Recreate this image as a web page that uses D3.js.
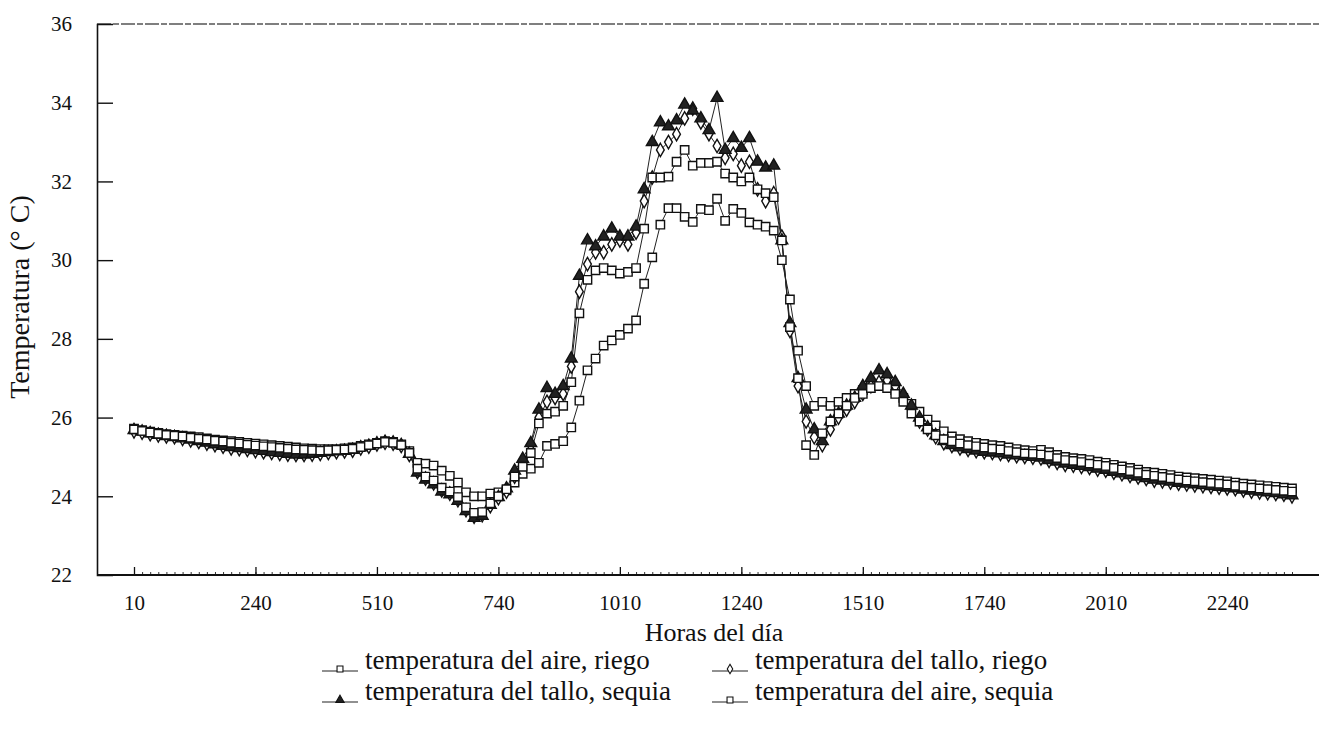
<!DOCTYPE html>
<html>
<head>
<meta charset="utf-8">
<script src="https://cdn.jsdelivr.net/npm/d3@7"></script>
<style>
  body { margin: 0; background: #fff; }
  svg text { font-family: "Liberation Serif", "Times New Roman", Times, "DejaVu Serif", serif; fill: #111; }
</style>
</head>
<body>
<div id="chart"></div>
<script>
// time of day, one reading every 10 minutes (0:10 ... 24:00)
var horas = d3.range(10, 1441, 10).map(function(m) { return String(Math.floor(m / 60) * 100 + m % 60); });
var tickLabels = ["10", "240", "510", "740", "1010", "1240", "1510", "1740", "2010", "2240"];
var yTicks = [22, 24, 26, 28, 30, 32, 34, 36];

// temperatura del aire, riego
var aireRiego = [
  25.72, 25.68, 25.64, 25.61, 25.58, 25.56, 25.54, 25.52, 25.50, 25.47,
  25.44, 25.42, 25.40, 25.38, 25.36, 25.34, 25.32, 25.30, 25.28, 25.26,
  25.24, 25.22, 25.21, 25.20, 25.20, 25.20, 25.22, 25.24, 25.28, 25.32,
  25.36, 25.40, 25.38, 25.32, 25.15,
  24.85, 24.83, 24.78, 24.65, 24.52, 24.35, 24.10, 24.00, 24.00, 24.07, 24.10, 24.15, 24.35, 24.57, 24.70, 24.85,
  25.28, 25.33, 25.40, 25.75, 26.43, 27.20, 27.50, 27.83, 27.96, 28.10, 28.26, 28.47, 29.40, 30.07, 30.90, 31.32, 31.32,
  31.10, 30.97, 31.30, 31.27, 31.56, 31.00, 31.30, 31.20, 30.96, 30.90, 30.85, 30.75, 30.00, 29.00,
  27.70, 26.80, 26.30, 26.40, 26.30, 26.40, 26.50, 26.60, 26.70, 26.80, 26.85, 26.80, 26.70, 26.50, 26.35, 26.15, 25.95, 25.80, 25.65,
  25.52, 25.45, 25.40, 25.36, 25.33, 25.30, 25.28, 25.24, 25.20, 25.17, 25.15, 25.18, 25.12, 25.05, 25.00, 24.97, 24.95, 24.92, 24.88, 24.85,
  24.80, 24.76, 24.72, 24.68, 24.62, 24.60, 24.57, 24.54, 24.50, 24.48, 24.46, 24.44, 24.42, 24.40, 24.38, 24.35, 24.32, 24.30, 24.28, 24.26,
  24.24, 24.22, 24.20
];

// temperatura del tallo, riego
var talloRiego = [
  25.65, 25.62, 25.58, 25.55, 25.52, 25.50, 25.46, 25.42, 25.38, 25.34,
  25.30, 25.26, 25.22, 25.20, 25.18, 25.15, 25.12, 25.10, 25.08, 25.06,
  25.05, 25.05, 25.06, 25.08, 25.10, 25.12, 25.14, 25.16, 25.22, 25.26,
  25.32, 25.36, 25.34, 25.28, 25.05,
  24.62, 24.45, 24.33, 24.15, 24.07, 23.90, 23.65, 23.48, 23.52, 23.75, 23.95, 24.12, 24.50, 24.85, 25.30, 26.00,
  26.40, 26.50, 26.60, 27.30, 29.20, 29.90, 30.20, 30.20, 30.40, 30.50, 30.40, 30.70, 31.50, 32.10, 32.80, 33.00, 33.20,
  33.60, 33.85, 33.50, 33.20, 32.90, 32.60, 32.70, 32.40, 32.50, 31.80, 31.50, 31.70, 30.60, 28.20,
  26.80, 25.90, 25.50, 25.30, 25.70, 26.00, 26.20, 26.40, 26.60, 26.80, 26.90, 26.95, 26.80, 26.50, 26.20, 25.90, 25.70, 25.50, 25.35,
  25.28, 25.22, 25.18, 25.15, 25.12, 25.10, 25.08, 25.05, 25.02, 25.00, 24.98, 24.96, 24.90, 24.85, 24.80, 24.78, 24.75, 24.72, 24.68, 24.65,
  24.60, 24.56, 24.52, 24.48, 24.44, 24.40, 24.38, 24.35, 24.32, 24.30, 24.28, 24.26, 24.24, 24.22, 24.20, 24.18, 24.15, 24.12, 24.10, 24.08,
  24.06, 24.04, 24.00
];

// temperatura del tallo, sequia
var talloSequia = [
  25.68, 25.64, 25.60, 25.56, 25.53, 25.50, 25.47, 25.44, 25.40, 25.36,
  25.32, 25.28, 25.25, 25.22, 25.20, 25.17, 25.15, 25.12, 25.10, 25.08,
  25.06, 25.06, 25.08, 25.10, 25.12, 25.14, 25.15, 25.18, 25.24, 25.28,
  25.34, 25.38, 25.36, 25.30, 25.08,
  24.60, 24.42, 24.30, 24.12, 24.05, 23.88, 23.62, 23.45, 23.50, 23.78, 23.98, 24.20, 24.65, 24.95, 25.35, 26.20,
  26.75, 26.60, 26.80, 27.50, 29.60, 30.50, 30.35, 30.60, 30.80, 30.60, 30.60, 30.85, 31.80, 33.00, 33.50, 33.40, 33.55,
  33.95, 33.80, 33.60, 33.30, 34.12, 32.80, 33.10, 32.85, 33.10, 32.50, 32.35, 32.40, 30.50, 28.40,
  27.00, 26.20, 25.70, 25.40, 25.90, 26.10, 26.30, 26.50, 26.80, 27.00, 27.20, 27.10, 26.90, 26.60, 26.30, 26.00, 25.75, 25.55, 25.40,
  25.30, 25.24, 25.20, 25.16, 25.13, 25.11, 25.09, 25.06, 25.04, 25.02, 25.00, 24.98, 24.92, 24.88, 24.83, 24.80, 24.77, 24.74, 24.70, 24.67,
  24.62, 24.58, 24.54, 24.50, 24.46, 24.42, 24.40, 24.37, 24.34, 24.32, 24.30, 24.28, 24.26, 24.24, 24.22, 24.20, 24.17, 24.14, 24.12, 24.10,
  24.08, 24.05, 24.02
];

// temperatura del aire, sequia
var aireSequia = [
  25.70, 25.66, 25.62, 25.59, 25.56, 25.54, 25.52, 25.49, 25.46, 25.44,
  25.41, 25.39, 25.36, 25.34, 25.31, 25.29, 25.27, 25.25, 25.23, 25.21,
  25.19, 25.18, 25.17, 25.16, 25.17, 25.18, 25.19, 25.21, 25.25, 25.30,
  25.34, 25.38, 25.36, 25.30, 25.10,
  24.70, 24.50, 24.40, 24.22, 24.12, 23.98, 23.72, 23.58, 23.60, 23.82, 24.00, 24.18, 24.50, 24.75, 25.10, 25.85,
  26.10, 26.15, 26.30, 26.90, 28.65, 29.50, 29.74, 29.80, 29.74, 29.66, 29.70, 29.80, 30.80, 32.10, 32.10, 32.12, 32.50,
  32.80, 32.40, 32.47, 32.47, 32.50, 32.20, 32.10, 32.00, 32.10, 31.80, 31.70, 31.60, 30.50, 28.30,
  27.00, 25.30, 25.05, 25.60, 25.90, 26.10, 26.30, 26.50, 26.60, 26.75, 26.80, 26.75, 26.60, 26.40, 26.10, 25.90, 25.70, 25.55, 25.45,
  25.40, 25.34, 25.30, 25.27, 25.24, 25.21, 25.19, 25.15, 25.12, 25.09, 25.08, 25.06, 25.03, 24.97, 24.92, 24.90, 24.87, 24.83, 24.80, 24.77,
  24.72, 24.68, 24.64, 24.60, 24.55, 24.52, 24.49, 24.46, 24.43, 24.40, 24.38, 24.36, 24.34, 24.32, 24.30, 24.27, 24.24, 24.22, 24.20, 24.18,
  24.16, 24.14, 24.12
];

var series = [
  { name: "temperatura del aire, riego", values: aireRiego, symbol: d3.symbolSquare, size: 70, fill: "#fff" },
  { name: "temperatura del tallo, riego", values: talloRiego, symbol: d3.symbolDiamond, size: 52, fill: "#fff" },
  { name: "temperatura del tallo, sequia", values: talloSequia, symbol: d3.symbolTriangle, size: 60, fill: "#222" },
  { name: "temperatura del aire, sequia", values: aireSequia, symbol: d3.symbolSquare, size: 70, fill: "#fff" }
];

series.forEach(function(s) {
  if (s.values.length !== horas.length) throw new Error(s.name + " has " + s.values.length + " values");
});

// dimensions
var svgWidth = 1319;
var svgHeight = 736;
var plot = { left: 97, right: 1319, top: 24, bottom: 575 };
var serif = '"Liberation Serif", "Times New Roman", Times, serif';

var svg = d3.select("#chart").append("svg")
  .attr("width", svgWidth)
  .attr("height", svgHeight);

// scales
var xScale = d3.scalePoint()
  .domain(horas)
  .range([134, 1292]);

var yScale = d3.scaleLinear()
  .domain([22, 36])
  .range([plot.bottom, plot.top]);

// frame: faint top border
svg.append("line")
  .attr("x1", plot.left).attr("x2", plot.right)
  .attr("y1", plot.top).attr("y2", plot.top)
  .attr("stroke", "#555")
  .attr("stroke-width", 1.4)
  .attr("stroke-dasharray", "14 2 6 2");

// y axis, ticks pointing into the plot
var leftAxis = d3.axisLeft(yScale)
  .tickValues(yTicks)
  .tickSize(-16)
  .tickPadding(25)
  .tickFormat(d3.format("d"));

var yAxisG = svg.append("g")
  .attr("transform", `translate(${plot.left}, 0)`)
  .call(leftAxis);
yAxisG.attr("font-family", null);
yAxisG.select(".domain").attr("stroke", "#111").attr("stroke-width", 1.6);
yAxisG.selectAll(".tick line").attr("stroke", "#111").attr("stroke-width", 1.4)
  .attr("display", d => (d === 22 || d === 36) ? "none" : null);
yAxisG.selectAll(".tick text")
  .style("font-family", serif)
  .style("font-size", "21px")
  .attr("fill", "#111");

// x axis: minor ticks every reading, major ticks at labels
var minorAxis = d3.axisBottom(xScale)
  .tickSize(-3)
  .tickFormat("");
var minorG = svg.append("g")
  .attr("transform", `translate(0, ${plot.bottom})`)
  .call(minorAxis);
minorG.select(".domain").remove();
minorG.selectAll(".tick line").attr("stroke", "#333").attr("stroke-width", 1);

var bottomAxis = d3.axisBottom(xScale)
  .tickValues(tickLabels)
  .tickSize(-8)
  .tickPadding(20);
var xAxisG = svg.append("g")
  .attr("transform", `translate(0, ${plot.bottom})`)
  .call(bottomAxis);
xAxisG.attr("font-family", null);
xAxisG.select(".domain").remove();
xAxisG.selectAll(".tick line").attr("stroke", "#111").attr("stroke-width", 1.3);
xAxisG.selectAll(".tick text")
  .style("font-family", serif)
  .style("font-size", "21px")
  .attr("fill", "#111");

svg.append("line")
  .attr("x1", plot.left).attr("x2", plot.right)
  .attr("y1", plot.bottom).attr("y2", plot.bottom)
  .attr("stroke", "#111")
  .attr("stroke-width", 1.8);

// lines
var line = d3.line()
  .x((d, i) => xScale(horas[i]))
  .y(d => yScale(d));

series.forEach(function(s) {
  svg.append("path")
    .datum(s.values)
    .attr("d", line)
    .attr("fill", "none")
    .attr("stroke", "#222")
    .attr("stroke-width", 1);
});

// markers
series.forEach(function(s) {
  var sym = d3.symbol().type(s.symbol).size(s.size);
  svg.append("g").selectAll("path")
    .data(s.values)
    .enter()
    .append("path")
    .attr("d", sym)
    .attr("transform", (d, i) => `translate(${xScale(horas[i])}, ${yScale(d)})`)
    .attr("fill", s.fill)
    .attr("stroke", "#111")
    .attr("stroke-width", 1.4);
});

// axis titles
svg.append("text")
  .attr("x", 714)
  .attr("y", 641)
  .attr("text-anchor", "middle")
  .style("font-family", serif)
  .style("font-size", "26px")
  .text("Horas del día");

svg.append("text")
  .attr("transform", "translate(29, 297) rotate(-90)")
  .attr("text-anchor", "middle")
  .style("font-family", serif)
  .style("font-size", "28px")
  .text("Temperatura (° C)");

// legend
var legendPos = [
  { x: 322, y: 669 },
  { x: 712, y: 669 },
  { x: 322, y: 700 },
  { x: 712, y: 700 }
];

series.forEach(function(s, j) {
  var p = legendPos[j];
  var g = svg.append("g").attr("transform", `translate(${p.x}, ${p.y})`);
  g.append("line")
    .attr("x1", 0).attr("x2", 36)
    .attr("y1", 2).attr("y2", 2)
    .attr("stroke", "#222")
    .attr("stroke-width", 1.2);
  g.append("path")
    .attr("d", d3.symbol().type(s.symbol).size(s.size * 0.5))
    .attr("transform", "translate(18, 0)")
    .attr("fill", s.fill)
    .attr("stroke", "#111")
    .attr("stroke-width", 1.1);
  g.append("text")
    .attr("x", 43)
    .attr("y", 0)
    .style("font-family", serif)
    .style("font-size", "27px")
    .text(s.name);
});
</script>
</body>
</html>
